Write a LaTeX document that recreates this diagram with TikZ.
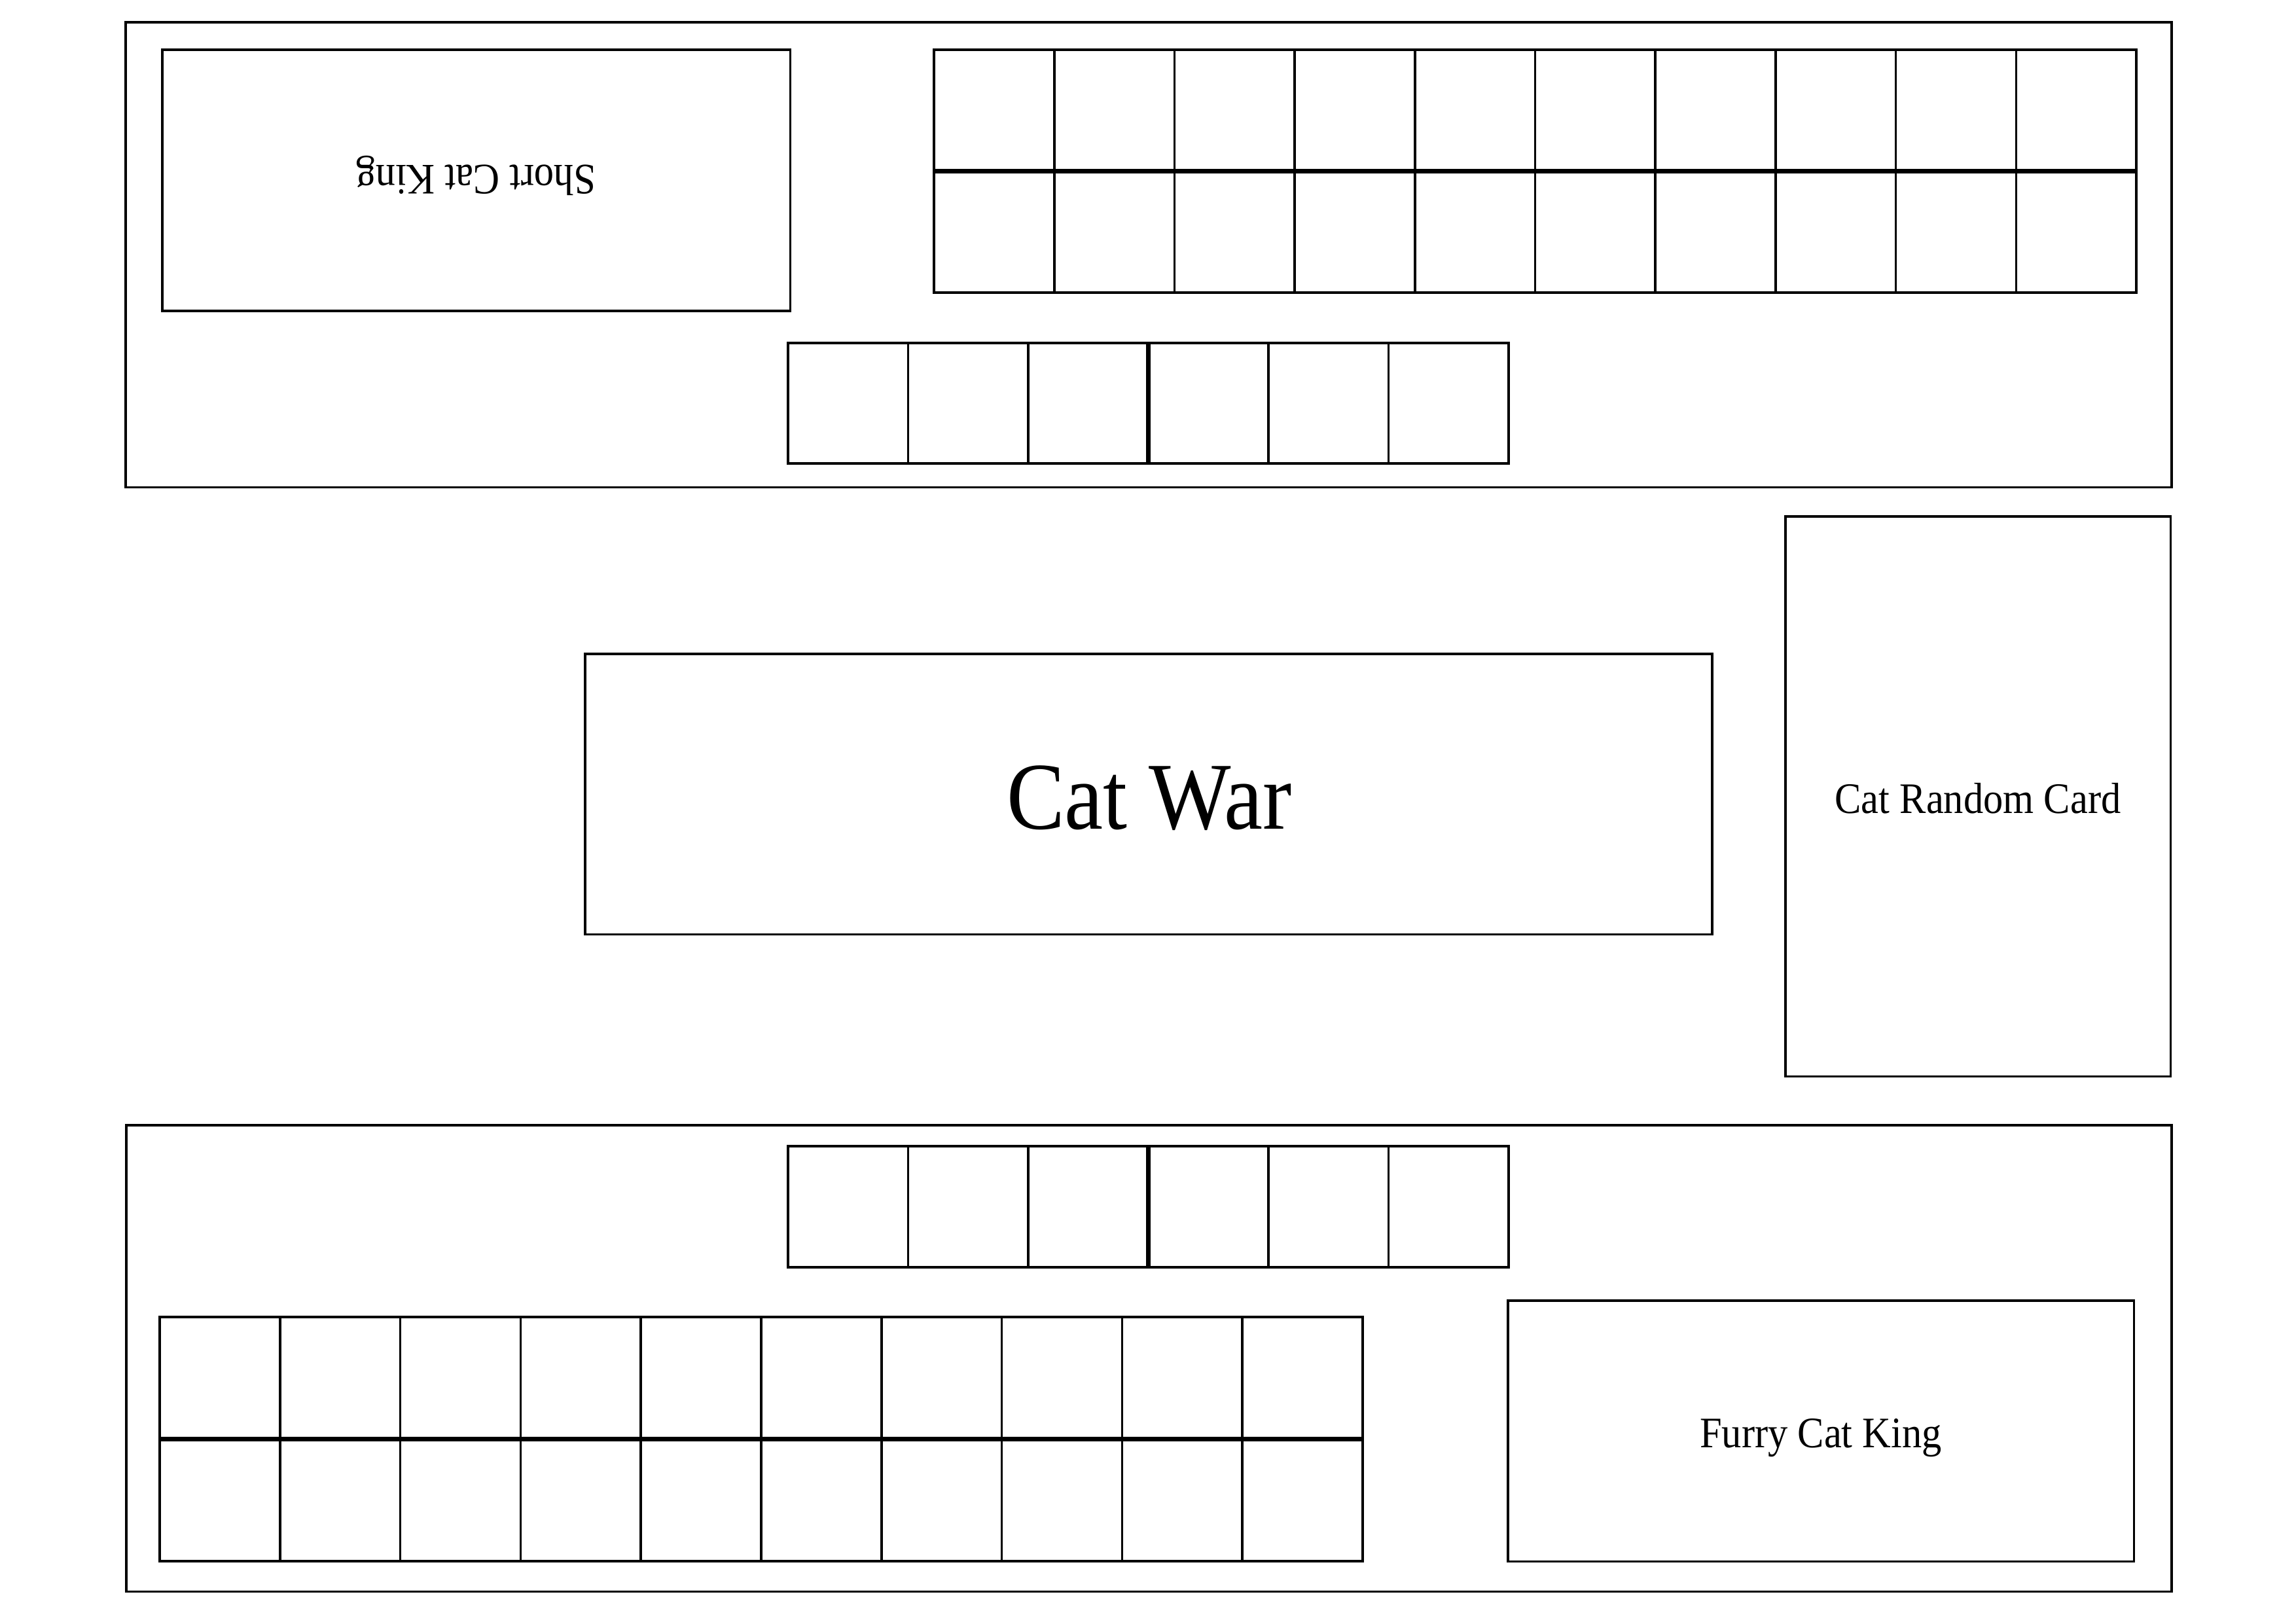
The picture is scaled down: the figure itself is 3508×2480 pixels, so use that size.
\documentclass[tikz,border=0pt]{standalone}
\usepackage{fontspec}
\setmainfont{Liberation Serif}
\begin{document}
\begin{tikzpicture}[x=0.01cm,y=-0.01cm,
  box/.style={draw, line width=1pt, inner sep=0pt, outer sep=0pt, anchor=north west},
  cell/.style={box},
  heavyline/.style={line width=1.8pt},
  lbl/.style={inner sep=0pt, text height=0.72em, text depth=0pt, font=\fontsize{17.2}{20}\selectfont},
  title/.style={inner sep=0pt, text height=0.72em, text depth=0pt, font=\fontsize{37.8}{42}\selectfont}]
\useasboundingbox (0,0) rectangle (3508,2480);
% top player area
\node[box, minimum width=31.24cm, minimum height=7.10cm] (topframe) at (192,34) {};
\node[box, minimum width=9.59cm, minimum height=3.99cm] (shortking) at (248,76) {};
\node[lbl, rotate=180] (shortkingtxt) at (727,265) {\scalebox{1}[1.1]{Short Cat King}};
\foreach \i in {1,...,10} {
  \node[cell, minimum width=1.837cm, minimum height=1.855cm] (tbA\i) at ({1427+(\i-1)*183.7},76) {};
  \node[cell, minimum width=1.837cm, minimum height=1.855cm] (tbB\i) at ({1427+(\i-1)*183.7},261.5) {};
}
\draw[heavyline] (tbA1.south west) -- (tbA10.south east);
\foreach \i in {1,...,6} {
  \node[cell, minimum width=1.835cm, minimum height=1.84cm] (ts\i) at ({1204+(\i-1)*183.5},524) {};
}
\draw[heavyline] (ts3.north east) -- (ts3.south east);
% middle
\node[box, minimum width=17.21cm, minimum height=4.28cm] (catwar) at (894,999) {};
\node[title] (catwartxt) at (1756,1254) {\scalebox{1}[1.1]{Cat War}};
\node[box, minimum width=5.88cm, minimum height=8.55cm] (card) at (2728,789) {};
\node[lbl] (cardtxt) at (3022,1230) {\scalebox{1}[1.1]{Cat Random Card}};
% bottom player area
\node[box, minimum width=31.23cm, minimum height=7.12cm] (botframe) at (193,1719) {};
\foreach \i in {1,...,6} {
  \node[cell, minimum width=1.835cm, minimum height=1.85cm] (bs\i) at ({1204+(\i-1)*183.5},1751) {};
}
\draw[heavyline] (bs3.north east) -- (bs3.south east);
\foreach \i in {1,...,10} {
  \node[cell, minimum width=1.838cm, minimum height=1.865cm] (bbA\i) at ({244+(\i-1)*183.8},2012) {};
  \node[cell, minimum width=1.838cm, minimum height=1.865cm] (bbB\i) at ({244+(\i-1)*183.8},2198.5) {};
}
\draw[heavyline] (bbA1.south west) -- (bbA10.south east);
\node[box, minimum width=9.56cm, minimum height=3.98cm] (furry) at (2304,1987) {};
\node[lbl] (furrytxt) at (2782,2199) {\scalebox{1}[1.1]{Furry Cat King}};
\end{tikzpicture}
\end{document}
